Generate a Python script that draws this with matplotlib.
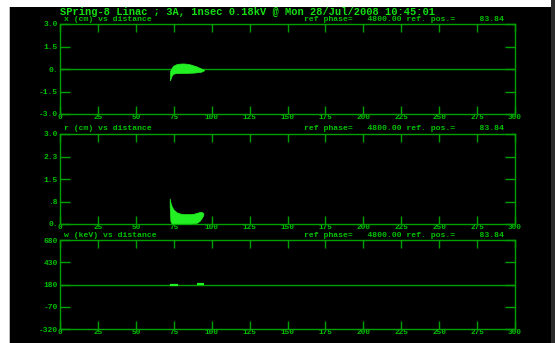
import matplotlib
matplotlib.use("Agg")
import matplotlib.pyplot as plt
from matplotlib.patches import Rectangle

# ---------------- data ----------------
title = "SPring-8 Linac ; 3A, 1nsec 0.18kV @ Mon 28/Jul/2008 10:45:01"
ref_text = "ref phase=   4800.00 ref. pos.=     83.84"
panel_titles = ["x (cm) vs distance", "r (cm) vs distance", "w (keV) vs distance"]

x_ticks = [0, 25, 50, 75, 100, 125, 150, 175, 200, 225, 250, 275, 300]
x_ticklabels = ["0", "25", "50", "75", "100", "125", "150", "175", "200",
                "225", "250", "275", "300"]

top_yticks = [-3.0, -1.5, 0.0, 1.5, 3.0]
top_ylabels = ["-3.0", "-1.5", "0.", "1.5", "3.0"]
mid_yticks = [0.0, 0.75, 1.5, 2.25, 3.0]
mid_ylabels = ["0.", ".8", "1.5", "2.3", "3.0"]
bot_yticks = [-320, -70, 180, 430, 680]
bot_ylabels = ["-320", "-70", "180", "430", "680"]

# x (cm) distribution envelope
x_z = [72.5, 73.6, 74.7, 76.9, 79.0, 81.3, 83.5, 85.7, 88.0, 90.1, 92.0, 93.4, 94.9]
x_upper = [-0.15, 0.07, 0.22, 0.33, 0.36, 0.37, 0.35, 0.31, 0.24, 0.17, 0.08, 0.02, -0.05]
x_lower = [-0.76, -0.45, -0.31, -0.27, -0.27, -0.26, -0.26, -0.25, -0.24, -0.22, -0.20, -0.17, -0.09]

# r (cm) distribution envelope
r_z = [72.3, 72.8, 73.6, 74.7, 76.9, 79.0, 81.3, 83.5, 85.7, 88.0, 90.1, 92.0, 93.4, 94.5]
r_upper = [0.85, 0.72, 0.60, 0.49, 0.39, 0.35, 0.33, 0.33, 0.33, 0.34, 0.37, 0.40, 0.40, 0.36]
r_lower = [0.60, 0.10, 0.02, 0.02, 0.02, 0.02, 0.02, 0.02, 0.02, 0.03, 0.04, 0.10, 0.20, 0.30]

# w (keV) short segments
w_start = [72.5, 90.0]
w_end = [78.0, 95.0]
w_val = [172, 188]

# ---------------- style ----------------
BG = "black"
AX = "#00a000"
TXT = "#00c000"
TTL = "#14e014"
BLOB = "#22f022"
FONT = "Liberation Mono"

W, H = 555, 343
fig = plt.figure(figsize=(W / 100, H / 100), dpi=100)
fig.patch.set_facecolor("white")
fig.patches.append(Rectangle((10 / W, 0), (551 - 10) / W, 1 - 7 / H,
                             transform=fig.transFigure, facecolor=BG,
                             edgecolor="none", zorder=-10))
fig.patches.append(Rectangle((551 / W, 0), 4 / W, 1,
                             transform=fig.transFigure, facecolor="#2a2a2a",
                             edgecolor="none", zorder=-10))
fig.patches.append(Rectangle((9 / W, 0), 1 / W, 1 - 7 / H,
                             transform=fig.transFigure, facecolor="#bbbbbb",
                             edgecolor="none", zorder=-10))


def px_rect(x0, y0, x1, y1):
    return [x0 / W, 1 - y1 / H, (x1 - x0) / W, (y1 - y0) / H]


ax_top = fig.add_axes(px_rect(60, 24, 515, 114))
ax_mid = fig.add_axes(px_rect(60, 134, 515, 224))
ax_bot = fig.add_axes(px_rect(60, 240.3, 515, 329))


def style(ax, yticks, ylabels, ylim):
    ax.set_facecolor(BG)
    ax.set_xlim(0, 300)
    ax.set_ylim(*ylim)
    for s in ax.spines.values():
        s.set_color(AX)
        s.set_linewidth(1.0)
    ax.set_xticks(x_ticks)
    ax.set_xticklabels(x_ticklabels, family=FONT, fontsize=5.6,
                       color=TXT, fontweight="bold")
    ax.set_yticks(yticks)
    ax.set_yticklabels(ylabels, family=FONT, fontsize=5.8,
                       color=TXT, fontweight="bold")
    ax.tick_params(axis="x", direction="in", top=True, bottom=True,
                   length=6, width=1, color=AX, pad=0.0)
    ax.tick_params(axis="y", direction="in", left=True, right=True,
                   length=7, width=1, color=AX, pad=1.5)


style(ax_top, top_yticks, top_ylabels, (-3.0, 3.0))
style(ax_mid, mid_yticks, mid_ylabels, (0.0, 3.0))
style(ax_bot, bot_yticks, bot_ylabels, (-320, 680))

# reference lines
ax_top.axhline(0.0, color=AX, lw=1.0, zorder=1)
ax_bot.axhline(180, color=AX, lw=1.0, zorder=1)

# particle distributions
ax_top.fill_between(x_z, x_lower, x_upper, color=BLOB, lw=0.5, zorder=3)
ax_mid.fill_between(r_z, r_lower, r_upper, color=BLOB, lw=0.5, zorder=3)
for a, b, v in zip(w_start, w_end, w_val):
    ax_bot.plot([a, b], [v, v], color=BLOB, lw=1.6, zorder=3,
                solid_capstyle="butt")

# texts
fig.text(60 / W, 1 - 12.4 / H, title, family=FONT, fontsize=7.5,
         color=TTL, va="center", ha="left", fontweight="bold")
for ypx, t in zip([19.8, 128.6, 235.2], panel_titles):
    fig.text(64 / W, 1 - ypx / H, t, family=FONT, fontsize=5.9, color=TXT,
             va="center", ha="left", fontweight="bold")
    fig.text(504 / W, 1 - ypx / H, ref_text, family=FONT, fontsize=5.9,
             color=TXT, va="center", ha="right", fontweight="bold")

fig.savefig("out.png", dpi=100, facecolor=fig.get_facecolor())
